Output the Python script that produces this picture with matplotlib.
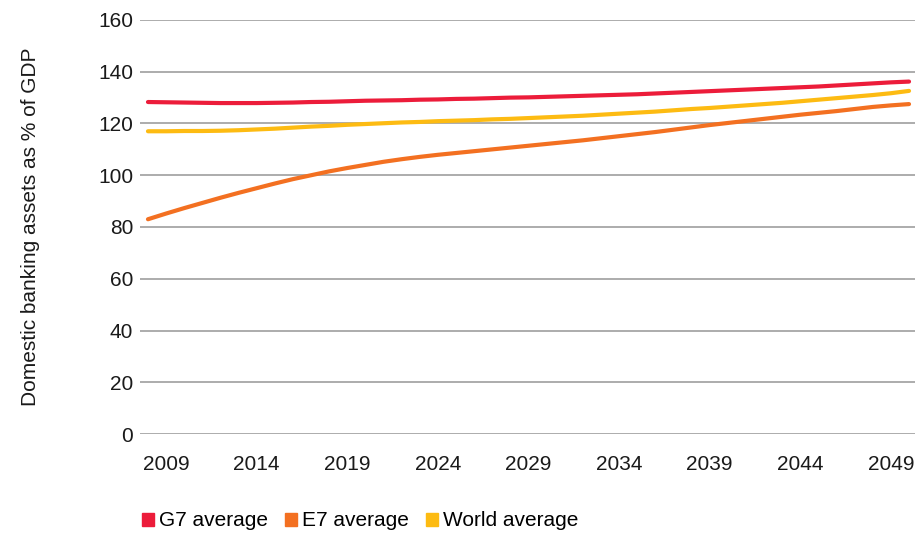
import matplotlib
matplotlib.use('Agg')
import matplotlib.pyplot as plt
import matplotlib.patches as mpatches
import numpy as np

# ── data ─────────────────────────────────────────────────────────────────
years = np.arange(2008, 2051)
tick_years = np.arange(2009, 2050, 5)

g7 = [128.3, 128.2, 128.1, 128.0, 127.9, 127.9, 127.9, 128.0, 128.1, 128.3,
      128.4, 128.6, 128.8, 128.9, 129.0, 129.2, 129.3, 129.5, 129.6, 129.8,
      130.0, 130.1, 130.3, 130.5, 130.7, 130.9, 131.1, 131.3, 131.6, 131.9,
      132.2, 132.5, 132.8, 133.1, 133.4, 133.7, 134.0, 134.3, 134.7, 135.1,
      135.5, 135.9, 136.2]
e7 = [83.0, 85.2, 87.3, 89.3, 91.3, 93.2, 95.0, 96.8, 98.5, 100.0,
      101.5, 102.8, 104.0, 105.2, 106.2, 107.1, 107.9, 108.6, 109.3, 110.0,
      110.7, 111.4, 112.1, 112.8, 113.5, 114.3, 115.1, 115.9, 116.7, 117.6,
      118.5, 119.4, 120.2, 121.0, 121.8, 122.6, 123.4, 124.1, 124.8, 125.6,
      126.4, 127.0, 127.5]
world = [117.0, 117.0, 117.1, 117.1, 117.2, 117.4, 117.7, 118.0, 118.4, 118.8,
         119.1, 119.5, 119.8, 120.1, 120.4, 120.6, 120.9, 121.1, 121.3, 121.6,
         121.8, 122.1, 122.4, 122.7, 123.0, 123.4, 123.8, 124.2, 124.6, 125.1,
         125.6, 126.0, 126.5, 127.0, 127.5, 128.0, 128.6, 129.2, 129.8, 130.4,
         131.0, 131.7, 132.6]

series_names = ['G7 average', 'E7 average', 'World average']
C_G7 = '#EC1C3A'
C_E7 = '#F37021'
C_WD = '#FDBB12'

plt.rcParams['font.family'] = ['Liberation Sans', 'DejaVu Sans']
FS = 15

fig = plt.figure(figsize=(9.18, 5.36), dpi=100)
ax = fig.add_axes([140 / 918, 1 - 434 / 536, 775 / 918, 414 / 536])

# gridlines
ax.set_ylim(0, 160)
ax.set_yticks(np.arange(0, 161, 20))
ax.grid(axis='y', color='#a6a6a6', lw=1.3, zorder=0)
ax.set_axisbelow(True)

ax.plot(years, g7, color=C_G7, lw=3, solid_capstyle='round', zorder=3)
ax.plot(years, e7, color=C_E7, lw=3, solid_capstyle='round', zorder=3)
ax.plot(years, world, color=C_WD, lw=3, solid_capstyle='round', zorder=3)

ax.set_xlim(2007.56, 2050.33)
ax.set_xticks(tick_years)
ax.set_xticklabels([str(y) for y in tick_years])

for s in ax.spines.values():
    s.set_visible(False)
ax.tick_params(axis='both', length=0, labelsize=FS, colors='#1a1a1a')
ax.tick_params(axis='y', pad=5)
ax.tick_params(axis='x', pad=15)

ax.set_ylabel('Domestic banking assets as % of GDP', fontsize=FS,
              color='#1a1a1a', labelpad=42)

handles = [mpatches.Patch(color=c, label=n)
           for c, n in zip([C_G7, C_E7, C_WD], series_names)]
fig.legend(handles=handles, loc='center left', ncol=3, frameon=False,
           bbox_to_anchor=(142 / 918, 1 - 521 / 536), fontsize=FS,
           handlelength=0.58, handleheight=0.58, handletextpad=0.25,
           columnspacing=0.8, borderaxespad=0, borderpad=0)

plt.savefig('out.png', dpi=100, facecolor='white')
plt.close()
